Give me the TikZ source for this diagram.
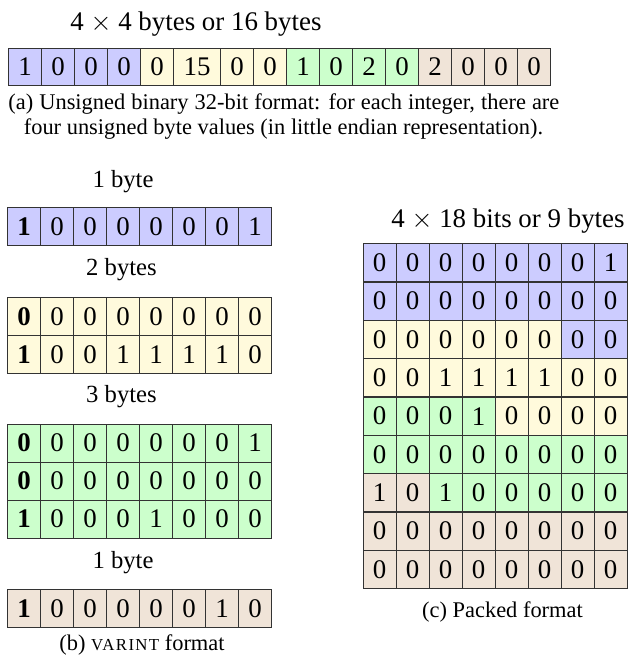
\documentclass[tikz,border=0pt]{standalone}
\usepackage{fontspec}
\setmainfont{Liberation Serif}
\definecolor{cb}{RGB}{204,204,255}
\definecolor{cy}{RGB}{255,250,220}
\definecolor{cg}{RGB}{204,255,204}
\definecolor{cr}{RGB}{240,228,216}
\tikzset{
  cell/.style={draw=black!80, line width=0.5pt, minimum width=14.72pt, minimum height=16.95pt, inner sep=0pt, anchor=north west, font=\fontsize{12}{14}\selectfont},
  lbl/.style={inner sep=0pt, anchor=base, font=\fontsize{10}{12}\selectfont},
  blbl/.style={inner sep=0pt, anchor=base, font=\fontsize{11}{13}\selectfont},
  ttl/.style={inner sep=0pt, anchor=base west, font=\fontsize{12}{14}\selectfont},
}
\newcommand{\cellrow}[4]{\foreach \cc/\vv [count=\k] in {#4} {\node[cell, fill=c\cc] (#1-\k) at ({#2+33*(\k-1)}, #3) {\vv};}}
\begin{document}
\begin{tikzpicture}[x=0.446pt, y=-0.446pt]
\useasboundingbox (0,0) rectangle (628,657);
% (a)
\node[ttl] (ta) at (70,30.5) {4 $\times$ 4 bytes or 16 bytes};
\foreach \cc/\vv/\xx/\ww [count=\k] in {b/1/8/33, b/0/41/33, b/0/74/33, b/0/107/33, y/0/140/33, y/15/173/47, y/0/220/33, y/0/253/33, g/1/286/33, g/0/319/33, g/2/352/33, g/0/385/33, r/2/418/33, r/0/451/33, r/0/484/33, r/0/517/33}
  \node[cell, fill=c\cc, minimum width=\ww*0.446pt, minimum height=37*0.446pt] (a-\k) at (\xx,48) {\vv};
\node[inner sep=0pt, anchor=base west, font=\fontsize{10}{12}\selectfont] (capa1) at (8,109) {\makebox[245.7pt][s]{(a) Unsigned binary 32-bit format: for each integer, there are}};
\node[lbl] (capa2) at (283.5,134) {four unsigned byte values (in little endian representation).};
% (b)
\node[blbl] (l1) at (123,187) {1 byte};
\cellrow{b1}{7}{207}{b/\textbf{1},b/0,b/0,b/0,b/0,b/0,b/0,b/1}
\node[blbl] (l2) at (121.5,275) {2 bytes};
\cellrow{b2}{7}{297}{y/\textbf{0},y/0,y/0,y/0,y/0,y/0,y/0,y/0}
\cellrow{b3}{7}{335}{y/\textbf{1},y/0,y/0,y/1,y/1,y/1,y/1,y/0}
\node[blbl] (l3) at (121.5,402) {3 bytes};
\cellrow{b4}{7}{423.5}{g/\textbf{0},g/0,g/0,g/0,g/0,g/0,g/0,g/1}
\cellrow{b5}{7}{461.5}{g/\textbf{0},g/0,g/0,g/0,g/0,g/0,g/0,g/0}
\cellrow{b6}{7}{499.5}{g/\textbf{1},g/0,g/0,g/0,g/1,g/0,g/0,g/0}
\node[blbl] (l4) at (123,568) {1 byte};
\cellrow{b7}{7}{589}{r/\textbf{1},r/0,r/0,r/0,r/0,r/0,r/1,r/0}
\node[lbl] (capb) at (142,650) {(b) {\fontsize{7.5}{9}\selectfont\addfontfeatures{LetterSpace=8}VARINT} format};
% (c)
\node[ttl] (tc) at (391,227) {4 $\times$ 18 bits or 9 bytes};
\cellrow{c1}{362.5}{243.3}{b/0,b/0,b/0,b/0,b/0,b/0,b/0,b/1}
\cellrow{c2}{362.5}{281.6}{b/0,b/0,b/0,b/0,b/0,b/0,b/0,b/0}
\cellrow{c3}{362.5}{320.0}{y/0,y/0,y/0,y/0,y/0,y/0,b/0,b/0}
\cellrow{c4}{362.5}{358.3}{y/0,y/0,y/1,y/1,y/1,y/1,y/0,y/0}
\cellrow{c5}{362.5}{396.6}{g/0,g/0,g/0,g/1,y/0,y/0,y/0,y/0}
\cellrow{c6}{362.5}{434.9}{g/0,g/0,g/0,g/0,g/0,g/0,g/0,g/0}
\cellrow{c7}{362.5}{473.3}{r/1,r/0,g/1,g/0,g/0,g/0,g/0,g/0}
\cellrow{c8}{362.5}{511.6}{r/0,r/0,r/0,r/0,r/0,r/0,r/0,r/0}
\cellrow{c9}{362.5}{549.9}{r/0,r/0,r/0,r/0,r/0,r/0,r/0,r/0}
\node[lbl] (capc) at (502.5,617) {(c) Packed format};
\end{tikzpicture}
\end{document}
